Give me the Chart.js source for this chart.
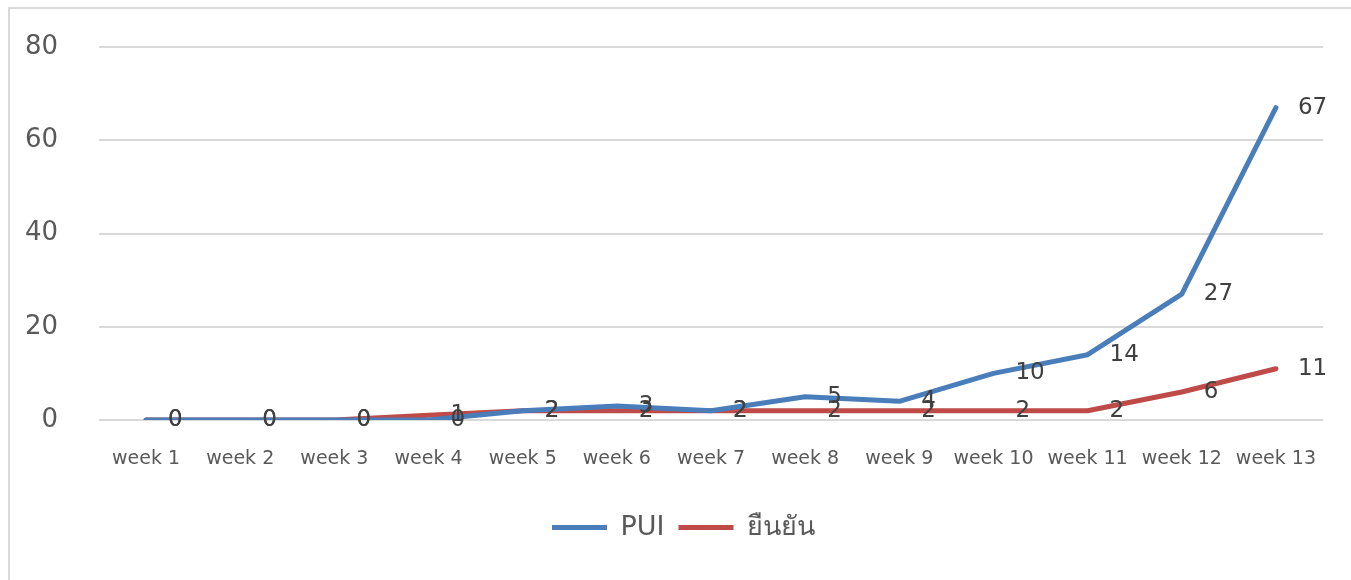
<!DOCTYPE html>
<html>
<head>
<meta charset="utf-8">
<script src="https://cdn.jsdelivr.net/npm/chart.js@4"></script>
<style>
html,body{margin:0;padding:0;background:#fff;overflow:hidden;}
#frame{position:absolute;left:8px;top:7px;width:2000px;height:2000px;border-left:2px solid #d9d9d9;border-top:2px solid #d9d9d9;}
#wrap{position:absolute;left:0;top:0;width:1351px;height:580px;}
</style>
</head>
<body>
<div id="frame"></div>
<div id="wrap"><canvas id="c"></canvas></div>
<script>
const categories = ["week 1","week 2","week 3","week 4","week 5","week 6","week 7","week 8","week 9","week 10","week 11","week 12","week 13"];
const puiValues = [0,0,0,0,2,3,2,5,4,10,14,27,67];
const confirmedValues = [0,0,0,1,2,2,2,2,2,2,2,6,11];
const seriesNames = ["PUI","ยืนยัน"];
const yTicks = [0,20,40,60,80];

const FONT = "'DejaVu Sans', 'Noto Sans', sans-serif";

const valueLabels = {
  id: 'valueLabels',
  afterDatasetsDraw(chart) {
    const ctx = chart.ctx;
    ctx.save();
    ctx.font = "23px " + FONT;
    ctx.fillStyle = "#404040";
    ctx.textAlign = "left";
    ctx.textBaseline = "middle";
    chart.data.datasets.forEach((ds, i) => {
      const meta = chart.getDatasetMeta(i);
      meta.data.forEach((pt, j) => {
        ctx.fillText(String(ds.data[j]), pt.x + 22, pt.y);
      });
    });
    ctx.restore();
  }
};

const legendShift = {
  id: 'legendShift',
  afterLayout(chart) {
    if (chart.legend) { chart.legend.left += 44; }
  }
};

new Chart(document.getElementById('c'), {
  type: 'line',
  data: {
    labels: categories,
    datasets: [
      {label: seriesNames[0], data: puiValues, borderColor: '#4a7ebb', backgroundColor: '#4a7ebb', borderWidth: 5, pointRadius: 0, tension: 0, borderCapStyle: 'round', borderJoinStyle: 'round'},
      {label: seriesNames[1], data: confirmedValues, borderColor: '#be4b48', backgroundColor: '#be4b48', borderWidth: 5, pointRadius: 0, tension: 0, borderCapStyle: 'round', borderJoinStyle: 'round'}
    ]
  },
  options: {
    responsive: true,
    maintainAspectRatio: false,
    animation: false,
    layout: {padding: {top: 47, right: 28, left: 0, bottom: 29}},
    plugins: {
      tooltip: {enabled: false},
      legend: {
        position: 'bottom',
        labels: {
          usePointStyle: true,
          pointStyle: 'line',
          pointStyleWidth: 55,
          boxHeight: 24,
          padding: 14,
          color: '#595959',
          font: {family: FONT, size: 27}
        }
      }
    },
    scales: {
      x: {
        offset: true,
        grid: {display: false, offset: true},
        border: {display: false},
        ticks: {color: '#595959', font: {family: FONT, size: 19}, padding: 20, maxRotation: 0, autoSkip: false},
        afterFit(s) { s.height = 80; }
      },
      y: {
        min: 0, max: 80,
        afterBuildTicks(s) { s.ticks = yTicks.map(v => ({value: v})); },
        grid: {color: '#d9d9d9', lineWidth: 2, drawTicks: false},
        border: {display: false},
        ticks: {color: '#595959', font: {family: FONT, size: 26}, padding: 41},
        afterFit(s) { s.width = 99; s.paddingTop = 0; s.paddingBottom = 0; }
      }
    }
  },
  plugins: [valueLabels, legendShift]
});
</script>
</body>
</html>
